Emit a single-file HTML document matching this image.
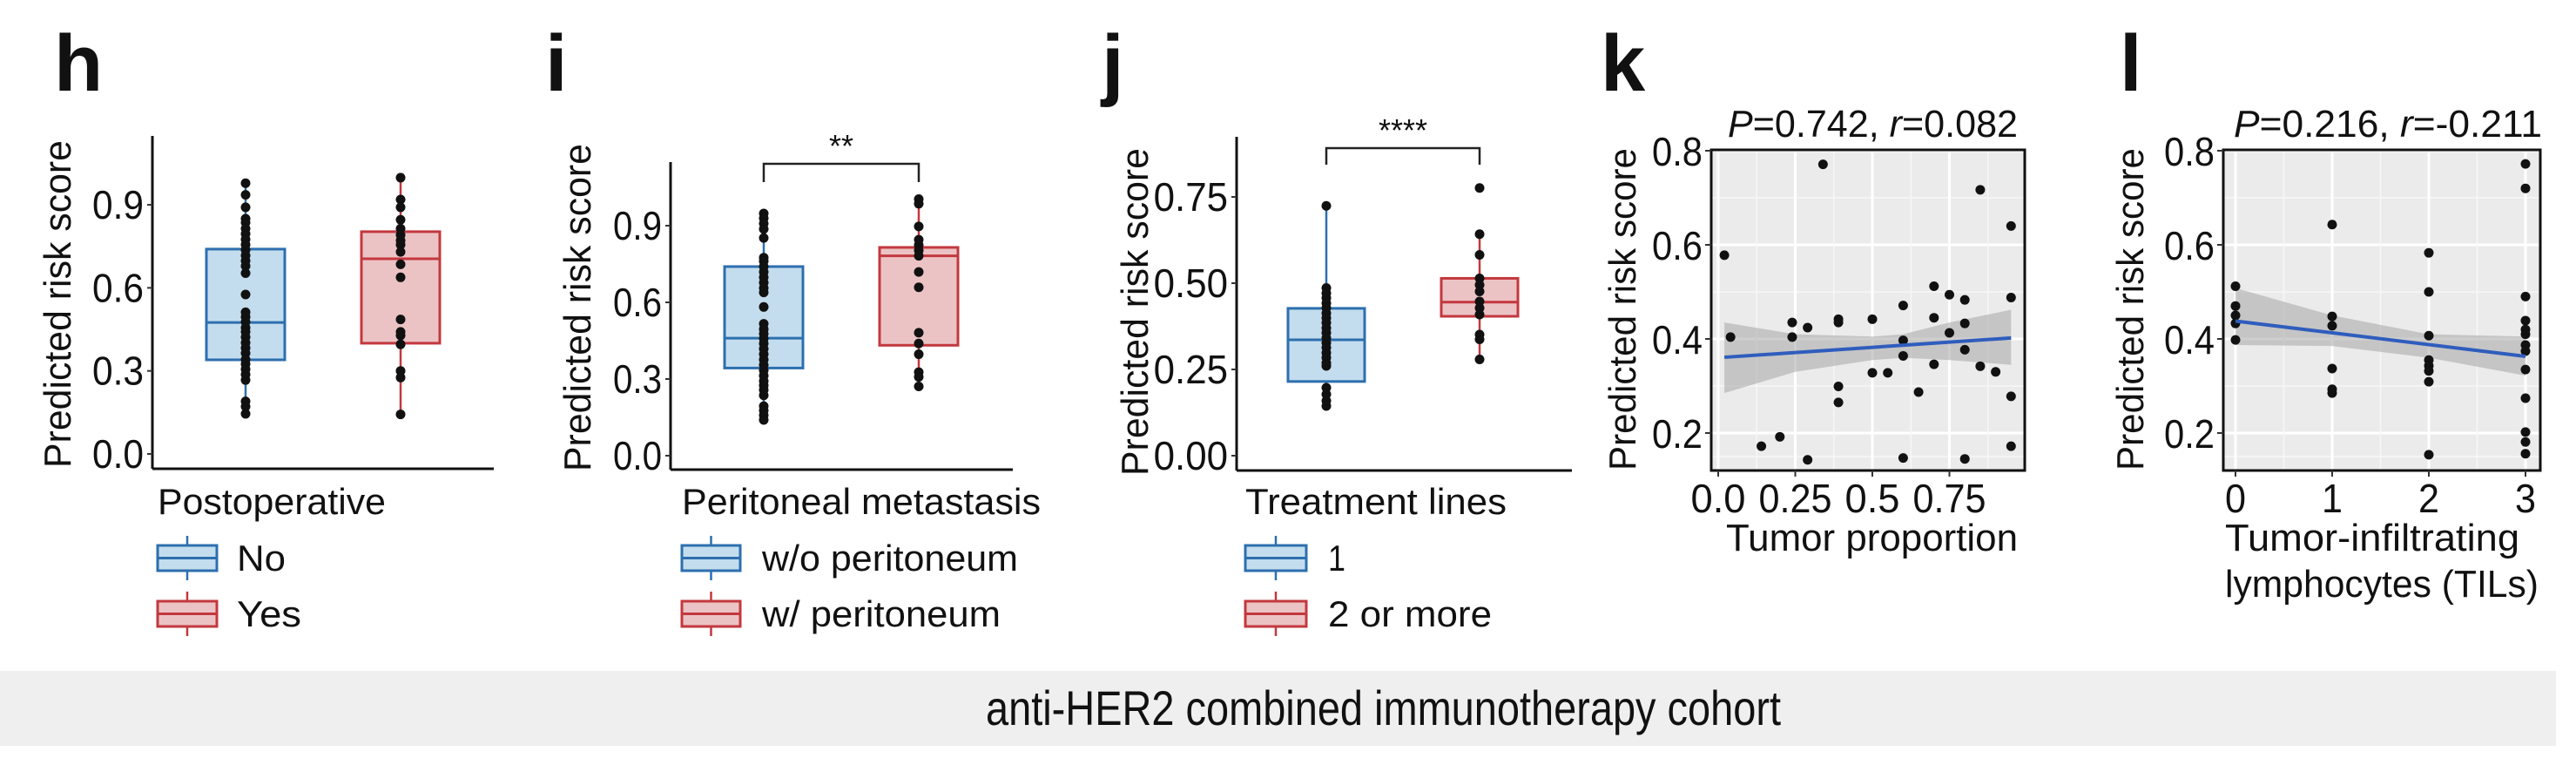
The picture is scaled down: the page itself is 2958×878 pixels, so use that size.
<!DOCTYPE html>
<html><head><meta charset="utf-8"><style>
html,body{margin:0;padding:0;background:#fff;}
svg{display:block;font-family:"Liberation Sans",Arial,sans-serif;}
</style></head><body>
<svg id="fig" width="2958" height="878" viewBox="0 0 2958 878" xmlns="http://www.w3.org/2000/svg">
<rect x="0" y="0" width="2958" height="878" fill="#fff"/>
<g id="static"></g>
</svg>
<script>
// ---------- DATA ----------
const hGroups = ["No","Yes"];
const hNo = [0.978,0.936,0.891,0.85,0.836,0.814,0.795,0.775,0.756,0.737,0.717,0.698,0.679,0.653,0.576,0.512,0.495,0.477,0.456,0.441,0.422,0.402,0.383,0.364,0.341,0.325,0.306,0.287,0.267,0.19,0.171,0.145];
const hYes = [0.998,0.919,0.891,0.846,0.814,0.791,0.771,0.756,0.730,0.685,0.638,0.486,0.441,0.428,0.396,0.30,0.276,0.143];
const hQ1 = [0.34,0.40], hMed = [0.475,0.705], hQ3 = [0.74,0.803], hLo = [0.145,0.143], hHi = [0.978,0.998];
const hTicks = [0.0,0.3,0.6,0.9], hTickLabels = ["0.0","0.3","0.6","0.9"];

const iGroups = ["w/o peritoneum","w/ peritoneum"];
const iWo = [0.948,0.929,0.908,0.887,0.852,0.775,0.761,0.740,0.719,0.698,0.677,0.656,0.639,0.582,0.516,0.495,0.477,0.458,0.439,0.418,0.397,0.376,0.355,0.334,0.313,0.292,0.275,0.257,0.236,0.194,0.177,0.158,0.140];
const iW = [1.004,0.986,0.897,0.845,0.824,0.803,0.782,0.719,0.659,0.481,0.439,0.397,0.327,0.308,0.271];
const iQ1 = [0.343,0.432], iMed = [0.46,0.782], iQ3 = [0.74,0.815], iLo = [0.14,0.271], iHi = [0.948,1.0];
const iTicks = [0.0,0.3,0.6,0.9], iTickLabels = ["0.0","0.3","0.6","0.9"];

const jGroups = ["1","2 or more"];
const j1 = [0.724,0.486,0.471,0.457,0.442,0.428,0.413,0.399,0.385,0.370,0.356,0.341,0.327,0.313,0.298,0.284,0.269,0.260,0.197,0.178,0.159,0.144];
const j2 = [0.776,0.642,0.582,0.514,0.495,0.476,0.447,0.428,0.409,0.351,0.337,0.279];
const jQ1 = [0.215,0.404], jMed = [0.336,0.445], jQ3 = [0.427,0.514], jLo = [0.144,0.279], jHi = [0.724,0.642];
const jTicks = [0.0,0.25,0.5,0.75], jTickLabels = ["0.00","0.25","0.50","0.75"];

const kX = [0.02,0.04,0.34,0.14,0.20,0.24,0.24,0.29,0.29,0.39,0.39,0.39,0.39,0.50,0.50,0.55,0.60,0.60,0.60,0.60,0.65,0.70,0.70,0.70,0.75,0.75,0.80,0.80,0.80,0.80,0.85,0.85,0.90,0.95,0.95,0.95,0.95];
const kY = [0.578,0.404,0.771,0.172,0.192,0.435,0.404,0.424,0.143,0.442,0.435,0.299,0.265,0.442,0.328,0.328,0.471,0.397,0.364,0.147,0.287,0.512,0.445,0.346,0.413,0.494,0.483,0.433,0.377,0.145,0.717,0.342,0.330,0.640,0.488,0.278,0.172];
const kFitX = [0.02,0.95], kFitY = [0.361,0.402];
const kBandX = [0.02,0.25,0.5,0.6,0.75,0.95];
const kBandLo = [0.285,0.33,0.355,0.36,0.355,0.345];
const kBandHi = [0.435,0.41,0.405,0.41,0.435,0.462];
const kXTicks = [0,0.25,0.5,0.75], kXTickLabels = ["0.0","0.25","0.5","0.75"];
const scatterYTicks = [0.2,0.4,0.6,0.8], scatterYTickLabels = ["0.2","0.4","0.6","0.8"];

const lX = [0,0,0,0,0, 1,1,1,1,1,1, 2,2,2,2,2,2,2,2, 3,3,3,3,3,3,3,3,3,3,3,3,3];
const lY = [0.512,0.47,0.45,0.433,0.398, 0.643,0.448,0.428,0.337,0.293,0.285, 0.583,0.50,0.407,0.355,0.343,0.332,0.309,0.154, 0.772,0.72,0.49,0.439,0.42,0.41,0.387,0.374,0.335,0.274,0.202,0.181,0.156];
const lFitX = [0,3], lFitY = [0.438,0.363];
const lBandX = [0,1,2,3];
const lBandLo = [0.387,0.385,0.36,0.322];
const lBandHi = [0.508,0.45,0.41,0.405];
const lXTicks = [0,1,2,3], lXTickLabels = ["0","1","2","3"];

// ---------- HELPERS ----------
const NS = "http://www.w3.org/2000/svg";
const root = document.getElementById('static');
function mk(tag, attrs, parent){
  const e = document.createElementNS(NS, tag);
  for (const k in attrs) e.setAttribute(k, attrs[k]);
  (parent||root).appendChild(e);
  return e;
}
function txt(str, x, y, size, opts, name){
  opts = opts||{};
  const a = {x:x, y:y, 'font-size':size, fill:opts.fill||'#111'};
  if (opts.anchor) a['text-anchor'] = opts.anchor;
  if (opts.weight) a['font-weight'] = opts.weight;
  if (opts.len){ a['textLength']=opts.len; a['lengthAdjust']='spacingAndGlyphs'; }
  if (opts.transform) a.transform = opts.transform;
  if (opts.style) a['font-style'] = opts.style;
  const t = mk('text', a, opts.parent);
  t.textContent = str;
  
  
  return t;
}
const BLUE = {fill:'#c4ddee', stroke:'#2d6fae'};
const RED = {fill:'#ecc3c4', stroke:'#c3383e'};

function boxPanel(cfg){
  const g = mk('g', {});
  
  
  const y = v => cfg.y0 - v*cfg.ppu;
  // axes
  const ya = mk('line', {x1:cfg.ax, y1:cfg.top, x2:cfg.ax, y2:cfg.base, stroke:'#111','stroke-width':3}, g);
  
  
  const xa = mk('line', {x1:cfg.ax, y1:cfg.base, x2:cfg.axEnd, y2:cfg.base, stroke:'#111','stroke-width':3}, g);
  
  
  cfg.ticks.forEach((t,i)=>{
    const tk = mk('line',{x1:cfg.ax-6,x2:cfg.ax,y1:y(t),y2:y(t),stroke:'#333','stroke-width':2},g);
    
    
    txt(cfg.tickLabels[i], cfg.ax-10, y(t)+16, 46, {anchor:'end', parent:g, len:cfg.tickLen*cfg.tickLabels[i].length/3}, 'y-tick-label');
  });
  txt('Predicted risk score', 0, 0, 44, {anchor:'middle', parent:g, len:376, transform:`translate(${cfg.titleX},${cfg.titleY}) rotate(-90)`}, 'y-axis-title');
  const groups = [cfg.a, cfg.b], cols=[BLUE,RED];
  groups.forEach((pts,gi)=>{
    const cx = cfg.cx[gi], hw = cfg.hw, c = cols[gi];
    const wl = mk('line',{x1:cx,x2:cx,y1:y(cfg.lo[gi]),y2:y(cfg.hi[gi]),stroke:c.stroke,'stroke-width':2.5},g);
    
    
    const bx = mk('rect',{x:cx-hw,y:y(cfg.q3[gi]),width:2*hw,height:y(cfg.q1[gi])-y(cfg.q3[gi]),fill:c.fill,stroke:c.stroke,'stroke-width':3},g);
    
    
    const md = mk('line',{x1:cx-hw,x2:cx+hw,y1:y(cfg.med[gi]),y2:y(cfg.med[gi]),stroke:c.stroke,'stroke-width':3},g);
    
    
    pts.forEach(v=>{
      const p = mk('circle',{cx:cx,cy:y(v),r:5.5,fill:'#111'},g);
      
      
    });
  });
  if (cfg.sig){
    const s = cfg.sig;
    const br = mk('path',{d:`M${cfg.cx[0]},${s.drop} V${s.y} H${cfg.cx[1]} V${s.drop}`,fill:'none',stroke:'#222','stroke-width':2.5},g);
    
    
    txt(s.label,(cfg.cx[0]+cfg.cx[1])/2, s.y-8, 36, {anchor:'middle',parent:g},'significance-stars');
  }
  // legend
  txt(cfg.legTitle, cfg.legX, 590, 42, {parent:g, len:cfg.legTitleLen}, 'legend-title');
  [[626,BLUE],[690,RED]].forEach((r,ri)=>{
    const lg = mk('g',{},g);
    
    
    const kx = cfg.legX, kw = cfg.keyW, ky = r[0], col=r[1];
    mk('line',{x1:kx+kw/2,x2:kx+kw/2,y1:ky-11,y2:ky+40,stroke:col.stroke,'stroke-width':2.5},lg);
    mk('rect',{x:kx,y:ky,width:kw,height:29,fill:col.fill,stroke:col.stroke,'stroke-width':3},lg);
    mk('line',{x1:kx,x2:kx+kw,y1:ky+14.5,y2:ky+14.5,stroke:col.stroke,'stroke-width':3},lg);
    txt(cfg.legLabels[ri], cfg.legTextX, ky+29, 42, {parent:lg, len:cfg.legLens[ri]}, 'legend-label');
  });
  return g;
}

boxPanel({name:'panel-h', ax:175, top:156, base:538, axEnd:567, y0:521, ppu:317.7,
  ticks:hTicks, tickLabels:hTickLabels, tickLen:59, titleX:81, titleY:349,
  a:hNo, b:hYes, cx:[282,460], hw:45, q1:hQ1, med:hMed, q3:hQ3, lo:hLo, hi:hHi,
  legTitle:'Postoperative', legX:181, legTitleLen:262, keyW:68, legTextX:272, legLabels:hGroups, legLens:[56,74]});
boxPanel({name:'panel-i', ax:770, top:186, base:539, axEnd:1163, y0:523, ppu:293.3,
  ticks:iTicks, tickLabels:iTickLabels, tickLen:56, titleX:678, titleY:353,
  a:iWo, b:iW, cx:[877,1055], hw:45, q1:iQ1, med:iMed, q3:iQ3, lo:iLo, hi:iHi,
  sig:{y:188, drop:209, label:'**'},
  legTitle:'Peritoneal metastasis', legX:783, legTitleLen:412, keyW:67, legTextX:875, legLabels:iGroups, legLens:[294,274]});
boxPanel({name:'panel-j', ax:1420, top:157, base:540, axEnd:1805, y0:523, ppu:396,
  ticks:jTicks, tickLabels:jTickLabels, tickLen:64, titleX:1318, titleY:358,
  a:j1, b:j2, cx:[1523,1699], hw:44, q1:jQ1, med:jMed, q3:jQ3, lo:jLo, hi:jHi,
  sig:{y:170, drop:189, label:'****'},
  legTitle:'Treatment lines', legX:1430, legTitleLen:300, keyW:70, legTextX:1525, legLabels:jGroups, legLens:[20,188]});

function scatterPanel(cfg){
  const g = mk('g', {});
  
  
  const L=cfg.left,R=cfg.right,T=173-1,B=540;
  const sx = v => cfg.x0 + v*cfg.xppu;
  const sy = v => 173 + (0.8-v)*540;
  const bg = mk('rect',{x:L,y:T,width:R-L,height:B-T,fill:'#ebebeb'},g);
  
  
  // grid
  const minorY = [0.15,0.3,0.5,0.7];
  minorY.forEach(v=>{ if(sy(v)<B) { const l=mk('line',{x1:L,x2:R,y1:sy(v),y2:sy(v),stroke:'#f7f7f7','stroke-width':1.5},g);   }});
  scatterYTicks.forEach(v=>{ const l=mk('line',{x1:L,x2:R,y1:sy(v),y2:sy(v),stroke:'#fff','stroke-width':3},g);   });
  cfg.xTicks.forEach((v,i)=>{
    const l=mk('line',{x1:sx(v),x2:sx(v),y1:T,y2:B,stroke:'#fff','stroke-width':3},g);
    
    
    if (i>0){ const m=(v+cfg.xTicks[i-1])/2; const ml=mk('line',{x1:sx(m),x2:sx(m),y1:T,y2:B,stroke:'#f7f7f7','stroke-width':1.5},g);   }
  });
  const last = cfg.xTicks[cfg.xTicks.length-1], step = cfg.xTicks[1]-cfg.xTicks[0];
  if (sx(last+step/2)<R){ const ml=mk('line',{x1:sx(last+step/2),x2:sx(last+step/2),y1:T,y2:B,stroke:'#f7f7f7','stroke-width':1.5},g);   }
  // band
  let d = cfg.bandX.map((x,i)=>(i?'L':'M')+sx(x)+','+sy(cfg.bandHi[i])).join(' ');
  for(let i=cfg.bandX.length-1;i>=0;i--) d += ' L'+sx(cfg.bandX[i])+','+sy(cfg.bandLo[i]);
  const band = mk('path',{d:d+' Z',fill:'#a6a6a6','fill-opacity':0.55},g);
  
  
  // points
  cfg.xs.forEach((x,i)=>{
    const p=mk('circle',{cx:sx(x),cy:sy(cfg.ys[i]),r:5.5,fill:'#111'},g);
    
    
  });
  const fl = mk('line',{x1:sx(cfg.fitX[0]),y1:sy(cfg.fitY[0]),x2:sx(cfg.fitX[1]),y2:sy(cfg.fitY[1]),stroke:'#2f5dbd','stroke-width':4},g);
  
  
  const br = mk('rect',{x:L,y:T,width:R-L,height:B-T,fill:'none',stroke:'#111','stroke-width':3},g);
  
  
  // y ticks
  scatterYTicks.forEach((v,i)=>{
    const tk=mk('line',{x1:L-7,x2:L,y1:sy(v),y2:sy(v),stroke:'#333','stroke-width':2},g);
    
    
    txt(scatterYTickLabels[i], L-10, sy(v)+17, 46, {anchor:'end',parent:g,len:58}, 'y-tick-label');
  });
  cfg.xTicks.forEach((v,i)=>{
    const tk=mk('line',{x1:sx(v),x2:sx(v),y1:B,y2:B+7,stroke:'#333','stroke-width':2},g);
    
    
    const lab = cfg.xTickLabels[i];
    txt(lab, sx(v), 588, 46, {anchor:'middle',parent:g,len:cfg.xTickCharW*lab.length}, 'x-tick-label');
  });
  txt('Predicted risk score', 0, 0, 44, {anchor:'middle', parent:g, len:370, transform:`translate(${cfg.titleX},355) rotate(-90)`}, 'y-axis-title');
  // stats title
  const st = mk('text',{x:cfg.statX, y:157,'font-size':44,fill:'#111',textLength:cfg.statLen,lengthAdjust:'spacingAndGlyphs'},g);
  
  
  st.innerHTML = cfg.statHTML;
  cfg.xTitle.forEach((t,i)=>txt(t, cfg.xTitleX, 632+i*53, 44, {parent:g,len:cfg.xTitleLen[i]}, 'x-axis-title'));
}
scatterPanel({name:'panel-k', left:1965, right:2325, x0:1973, xppu:354, xs:kX, ys:kY,
  fitX:kFitX, fitY:kFitY, bandX:kBandX, bandLo:kBandLo, bandHi:kBandHi,
  xTicks:kXTicks, xTickLabels:kXTickLabels, xTickCharW:21, titleX:1878,
  statX:1984, statLen:333, statHTML:'<tspan font-style="italic">P</tspan>=0.742, <tspan font-style="italic">r</tspan>=0.082',
  xTitle:['Tumor proportion'], xTitleX:1982, xTitleLen:[335]});
scatterPanel({name:'panel-l', left:2553, right:2917, x0:2567, xppu:111, xs:lX, ys:lY,
  fitX:lFitX, fitY:lFitY, bandX:lBandX, bandLo:lBandLo, bandHi:lBandHi,
  xTicks:lXTicks, xTickLabels:lXTickLabels, xTickCharW:24, titleX:2461,
  statX:2565, statLen:354, statHTML:'<tspan font-style="italic">P</tspan>=0.216, <tspan font-style="italic">r</tspan>=-0.211',
  xTitle:['Tumor-infiltrating','lymphocytes (TILs)'], xTitleX:2555, xTitleLen:[338,360]});

// panel letters
[['h',62],['i',626],['j',1265],['k',1838],['l',2434]].forEach(p=>{
  txt(p[0], p[1], 104, 92, {weight:'bold'}, 'panel-label-'+p[0]);
});

// banner
const ban = mk('rect',{x:0,y:770,width:2935,height:86,fill:'#efefef'});


txt('anti-HER2 combined immunotherapy cohort', 1132, 832, 56, {len:913}, 'cohort-banner-text');
</script>
</body></html>
